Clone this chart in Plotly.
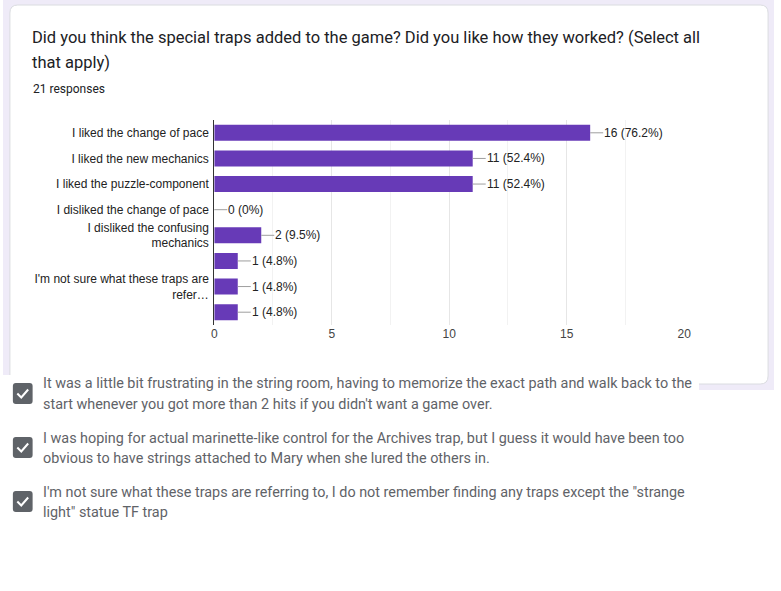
import plotly.graph_objects as go

W, H = 781, 591

categories = [
    "I liked the change of pace",
    "I liked the new mechanics",
    "I liked the puzzle-component",
    "I disliked the change of pace",
    "I disliked the confusing<br>mechanics",
    "",
    "I'm not sure what these traps are<br>refer…",
    "",
]
values = [16, 11, 11, 0, 2, 1, 1, 1]
pct_labels = ["76.2%", "52.4%", "52.4%", "0%", "9.5%", "4.8%", "4.8%", "4.8%"]
x_ticks = [0, 5, 10, 15, 20]

title_lines = [
    "Did you think the special traps added to the game? Did you like how they worked? (Select all",
    "that apply)",
]
subtitle = "21 responses"
other_answers = [
    ["It was a little bit frustrating in the string room, having to memorize the exact path and walk back to the",
     "start whenever you got more than 2 hits if you didn't want a game over."],
    ["I was hoping for actual marinette-like control for the Archives trap, but I guess it would have been too",
     "obvious to have strings attached to Mary when she lured the others in."],
    ["I'm not sure what these traps are referring to, I do not remember finding any traps except the \"strange",
     "light\" statue TF trap"],
]

BAR = "#673ab7"


def px(x):
    return x / W


def py(y):
    return 1 - y / H


def rrect(x0, y0, x1, y1, r):
    X0, X1 = px(x0), px(x1)
    Y0, Y1 = py(y0), py(y1)
    rx, ry = r / W, r / H
    return (f"M{X0+rx},{Y0} L{X1-rx},{Y0} Q{X1},{Y0} {X1},{Y0-ry} "
            f"L{X1},{Y1+ry} Q{X1},{Y1} {X1-rx},{Y1} L{X0+rx},{Y1} "
            f"Q{X0},{Y1} {X0},{Y1+ry} L{X0},{Y0-ry} Q{X0},{Y0} {X0+rx},{Y0} Z")


idx = list(range(len(categories)))

fig = go.Figure(go.Bar(
    x=values, y=idx, orientation="h", marker_color=BAR, marker_line_width=0,
    hoverinfo="skip",
))

shapes = [
    dict(type="rect", xref="paper", yref="paper", x0=0, x1=1, y0=0, y1=1,
         fillcolor="#efebf8", line_width=0, layer="below"),
    dict(type="path", xref="paper", yref="paper", path=rrect(7, 5, 775, 384, 8),
         fillcolor="#ffffff", line=dict(color="#dadce0", width=1), layer="below"),
    dict(type="rect", xref="paper", yref="paper", x0=0, x1=px(705), y0=0, y1=py(375),
         fillcolor="#ffffff", line_width=0, layer="below"),
    dict(type="rect", xref="paper", yref="paper", x0=0, x1=1, y0=0, y1=py(390),
         fillcolor="#ffffff", line_width=0, layer="below"),
]

annotations = []
# title
for i, t in enumerate(title_lines):
    annotations.append(dict(xref="paper", yref="paper", x=px(29.5), y=py(37 + 26 * i),
                            text=t, showarrow=False, xanchor="left", yanchor="middle",
                            borderpad=0, borderwidth=0,
                            font=dict(family="Roboto", size=16.5, color="#202124")))
annotations.append(dict(xref="paper", yref="paper", x=px(30), y=py(89), text=subtitle,
                        showarrow=False, xanchor="left", yanchor="middle",
                        borderpad=0, borderwidth=0,
                        font=dict(family="Roboto", size=12, color="#202124")))

# value labels
for i, (v, p) in enumerate(zip(values, pct_labels)):
    annotations.append(dict(x=v, y=i, xref="x", yref="y", text=f"{v} ({p})",
                            showarrow=True, arrowhead=0, arrowwidth=1, arrowcolor="#9e9e9e",
                            ax=13, ay=0, axref="pixel", ayref="pixel", xanchor="left",
                            standoff=0, startstandoff=0, borderpad=0,
                            font=dict(family="Arial, Liberation Sans", size=12, color="#222222")))

# other answers with checkboxes
for k, lines in enumerate(other_answers):
    ytop = 384 + 54 * k
    shapes.append(dict(type="path", xref="paper", yref="paper",
                       path=rrect(10, ytop - 1, 30, ytop + 20, 3),
                       fillcolor="#5f6368", line_width=0))
    shapes.append(dict(type="path", xref="paper", yref="paper",
                       path=f"M{px(14.5)},{py(ytop+9.5)} L{px(18.5)},{py(ytop+13.5)} L{px(25.5)},{py(ytop+5.5)}",
                       line=dict(color="#ffffff", width=2)))
    for j, t in enumerate(lines):
        annotations.append(dict(xref="paper", yref="paper", x=px(41), y=py(ytop + 20 * j),
                                text=t, showarrow=False, xanchor="left", yanchor="middle",
                                borderpad=0, borderwidth=0,
                                font=dict(family="Roboto", size=14.4, color="#5f6368")))

fig.update_layout(
    width=W, height=H,
    margin=dict(l=0, r=0, t=0, b=0),
    paper_bgcolor="#ffffff", plot_bgcolor="rgba(0,0,0,0)",
    showlegend=False, bargap=0.375,
    shapes=shapes, annotations=annotations,
    font=dict(family="Arial, Liberation Sans", size=12, color="#222222"),
    xaxis=dict(domain=[px(214), px(690)], range=[0, 20], tickvals=x_ticks,
               showgrid=True, gridcolor="#e6e6e6", zeroline=False, showline=False,
               minor=dict(dtick=2.5, showgrid=True, gridcolor="#f2f2f2"),
               tickfont=dict(size=12, color="#444444"), fixedrange=True),
    yaxis=dict(domain=[py(325), py(120)], range=[7.5, -0.5], tickvals=idx,
               ticktext=categories, showgrid=False, zeroline=False,
               showline=True, linecolor="#333333", linewidth=1,
               ticks="", ticklabelstandoff=2,
               tickfont=dict(size=12, color="#222222"), fixedrange=True),
)

post = (
    "document.documentElement.style.margin='0';"
    "document.documentElement.style.overflow='hidden';"
    "document.body.style.margin='0';document.body.style.padding='0';"
    "document.body.style.overflow='hidden';"
    "var d=document.getElementById('{plot_id}');"
    "var p=d.parentElement;p.style.lineHeight='0';p.style.fontSize='0';"
    "p.style.height='591px';p.style.width='781px';p.style.overflow='hidden';"
    "d.style.display='block';"
)
fig.write_html("out.html", config={"staticPlot": True}, post_script=post)
